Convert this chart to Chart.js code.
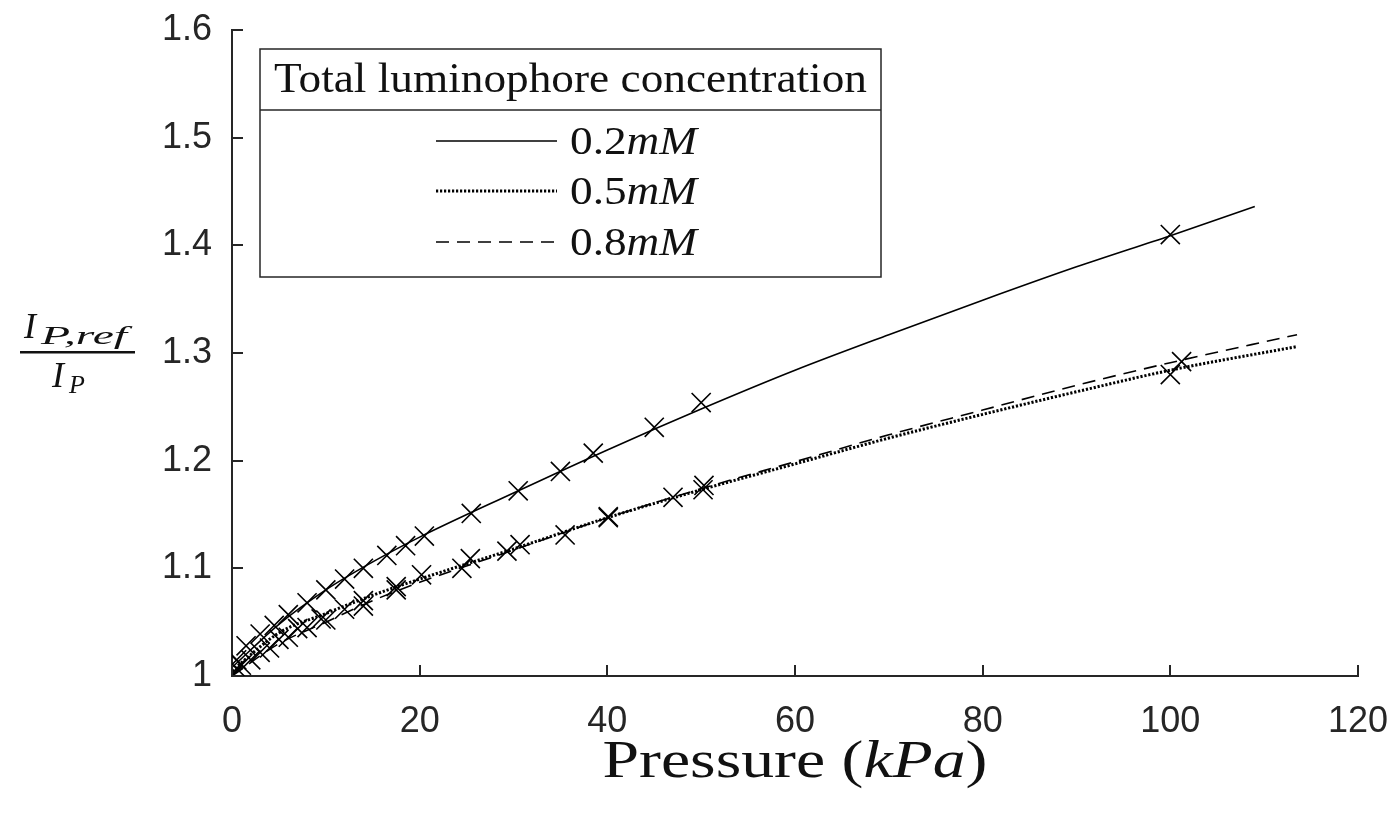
<!DOCTYPE html>
<html><head><meta charset="utf-8">
<script src="https://cdn.jsdelivr.net/npm/chart.js@4.4.1/dist/chart.umd.min.js"></script>
<style>html,body{margin:0;padding:0;background:#fff}canvas{display:block}</style>
</head><body>
<canvas id="c" width="1400" height="814"></canvas>
<script>
// ---- data ----
const xTicks = [0, 20, 40, 60, 80, 100, 120];
const yTicks = [1, 1.1, 1.2, 1.3, 1.4, 1.5, 1.6];
const seriesLabels = ['0.2mM', '0.5mM', '0.8mM'];
const legendTitle = 'Total luminophore concentration';

// measured points (pressure kPa, I_P,ref / I_P)
const p02 = [0, 0.5, 1.5, 3, 4.5, 6, 8, 10, 12, 14, 16.5, 18.5, 20.5, 25.5, 30.5, 35, 38.5, 45, 50, 100];
const r02 = [1.000, 1.015, 1.028, 1.039, 1.047, 1.057, 1.068, 1.080, 1.090, 1.100, 1.112, 1.121, 1.130, 1.151, 1.172, 1.190, 1.207, 1.231, 1.254, 1.410];
const p05 = [0, 1, 3, 5, 7, 9.5, 12, 14, 17.5, 20.2, 25.4, 30.7, 35.5, 40.1, 47, 50.3, 100];
const r05 = [1.000, 1.010, 1.022, 1.034, 1.044, 1.053, 1.062, 1.070, 1.083, 1.094, 1.109, 1.122, 1.131, 1.148, 1.166, 1.177, 1.280];
const p08 = [0, 0.5, 2, 4, 6, 8, 10, 14, 17.5, 24.5, 29.3, 40.1, 50.2, 101.2];
const r08 = [1.000, 1.007, 1.015, 1.026, 1.036, 1.045, 1.052, 1.065, 1.080, 1.100, 1.116, 1.147, 1.173, 1.292];

// fitted curves
const fitP02 = [0, 5, 10, 15, 20, 30, 40, 50, 60, 70, 80, 90, 100, 109];
const fitR02 = [1.008, 1.048, 1.080, 1.106, 1.129, 1.170, 1.210, 1.248, 1.284, 1.317, 1.349, 1.380, 1.409, 1.436];
const fitP05 = [0, 5, 10, 15, 20, 30, 40, 50, 60, 70, 80, 90, 100, 113.5];
const fitR05 = [1.005, 1.040, 1.058, 1.075, 1.090, 1.118, 1.147, 1.173, 1.197, 1.221, 1.243, 1.264, 1.284, 1.306];
const fitP08 = [0, 5, 10, 15, 20, 30, 40, 50, 60, 70, 80, 90, 100, 113.5];
const fitR08 = [1.000, 1.030, 1.050, 1.070, 1.087, 1.117, 1.147, 1.174, 1.199, 1.224, 1.247, 1.270, 1.291, 1.317];

// ---- build ----
const zip = (xs, ys) => xs.map((x, i) => ({x: x, y: ys[i]}));
const INK = '#262626';
const lineStyles = [
  {dash: [], width: 1.6},
  {dash: [2.2, 1.8], width: 3},
  {dash: [13, 8], width: 1.6}
];
const fits = [[fitP02, fitR02], [fitP05, fitR05], [fitP08, fitR08]];
const pts = [[p02, r02], [p05, r05], [p08, r08]];

const datasets = [];
fits.forEach((f, i) => {
  datasets.push({
    label: seriesLabels[i], data: zip(f[0], f[1]), showLine: true,
    borderColor: '#000', borderWidth: lineStyles[i].width, borderDash: lineStyles[i].dash,
    pointRadius: 0, cubicInterpolationMode: 'monotone', fill: false, isFit: true
  });
});
pts.forEach((p, i) => {
  datasets.push({
    label: seriesLabels[i] + ' data', data: zip(p[0], p[1]), showLine: false,
    pointStyle: 'crossRot', pointRadius: 13.5, pointBorderWidth: 1.6,
    borderColor: '#000', backgroundColor: '#000'
  });
});

function drawParts(ctx, parts, x, baseline, targetW, center) {
  let w = 0;
  parts.forEach(p => { ctx.font = p.font; p.w = ctx.measureText(p.t).width; w += p.w; });
  const s = targetW ? targetW / w : 1;
  ctx.save();
  const x0 = center ? x - w * s / 2 : x;
  ctx.translate(x0, baseline);
  ctx.scale(s, 1);
  let cx = 0;
  parts.forEach(p => { ctx.font = p.font; ctx.fillText(p.t, cx, 0); cx += p.w; });
  ctx.restore();
}

const SERIF = '"Liberation Serif", "DejaVu Serif", serif';
const decor = {
  id: 'decor',
  afterDraw(chart) {
    const ctx = chart.ctx;
    const xs = chart.scales.x, ys = chart.scales.y;
    ctx.save();
    // inward tick marks
    ctx.strokeStyle = INK; ctx.lineWidth = 2;
    xTicks.forEach(v => {
      const px = Math.round(xs.getPixelForValue(v));
      ctx.beginPath(); ctx.moveTo(px, ys.bottom); ctx.lineTo(px, ys.bottom - 11); ctx.stroke();
    });
    yTicks.forEach(v => {
      const py = Math.round(ys.getPixelForValue(v));
      ctx.beginPath(); ctx.moveTo(xs.left, py); ctx.lineTo(xs.left + 11, py); ctx.stroke();
    });

    // legend
    ctx.fillStyle = '#fff';
    ctx.fillRect(260, 49, 621, 228);
    ctx.strokeStyle = INK; ctx.lineWidth = 1.5;
    ctx.strokeRect(260, 49, 621, 228);
    ctx.beginPath(); ctx.moveTo(260, 110); ctx.lineTo(881, 110); ctx.stroke();
    ctx.fillStyle = '#111'; ctx.textBaseline = 'alphabetic';
    drawParts(ctx, [{t: legendTitle, font: '42px ' + SERIF}], 570.5, 92, 593, true);
    const rows = [141, 191, 242];
    chart.data.datasets.filter(d => d.isFit).forEach((d, i) => {
      const y = rows[i];
      ctx.save();
      ctx.strokeStyle = '#000'; ctx.lineWidth = d.borderWidth;
      ctx.setLineDash(d.borderDash || []);
      ctx.beginPath(); ctx.moveTo(436, y); ctx.lineTo(557, y); ctx.stroke();
      ctx.restore();
      const m = d.label.match(/^([\d.]+)(.*)$/);
      drawParts(ctx, [{t: m[1], font: '39px ' + SERIF}, {t: m[2], font: 'italic 39px ' + SERIF}], 570, y + 13, 127, false);
    });

    // x axis title
    drawParts(ctx, [
      {t: 'Pressure (', font: '52px ' + SERIF},
      {t: 'kPa', font: 'italic 52px ' + SERIF},
      {t: ')', font: '52px ' + SERIF}
    ], (xs.left + xs.right) / 2, 777, 385, true);

    // y axis title (fraction)
    drawParts(ctx, [{t: 'I', font: 'italic 36px ' + SERIF}], 24, 338, 0, false);
    drawParts(ctx, [{t: 'P,ref', font: 'italic 26px ' + SERIF}], 41, 344, 86, false);
    ctx.fillRect(20, 351, 115, 2.5);
    drawParts(ctx, [{t: 'I', font: 'italic 36px ' + SERIF}], 52, 387, 0, false);
    drawParts(ctx, [{t: 'P', font: 'italic 26px ' + SERIF}], 69, 393, 0, false);
    ctx.restore();
  }
};

new Chart(document.getElementById('c'), {
  type: 'scatter',
  data: {datasets: datasets},
  options: {
    responsive: false, animation: false, devicePixelRatio: 1,
    layout: {padding: {left: 0, right: 42, top: 30, bottom: 0}},
    plugins: {legend: {display: false}, tooltip: {enabled: false}},
    scales: {
      x: {
        type: 'linear', min: 0, max: 120,
        afterFit: s => { s.height = 138; s.paddingLeft = 0; s.paddingRight = 0; },
        afterBuildTicks: s => { s.ticks = xTicks.map(v => ({value: v})); },
        grid: {display: true, drawOnChartArea: false, drawTicks: false},
        border: {display: true, color: INK, width: 2},
        ticks: {color: INK, padding: 24, font: {family: '"Liberation Sans", Arial, sans-serif', size: 36}}
      },
      y: {
        type: 'linear', min: 1, max: 1.6,
        afterFit: s => { s.width = 232; s.paddingTop = 0; s.paddingBottom = 0; },
        afterBuildTicks: s => { s.ticks = yTicks.map(v => ({value: v})); },
        grid: {display: true, drawOnChartArea: false, drawTicks: false},
        border: {display: true, color: INK, width: 2},
        ticks: {color: INK, padding: 20, font: {family: '"Liberation Sans", Arial, sans-serif', size: 36},
          callback: v => String(Number(v.toFixed(1)))}
      }
    }
  },
  plugins: [decor]
});
</script>
</body></html>
